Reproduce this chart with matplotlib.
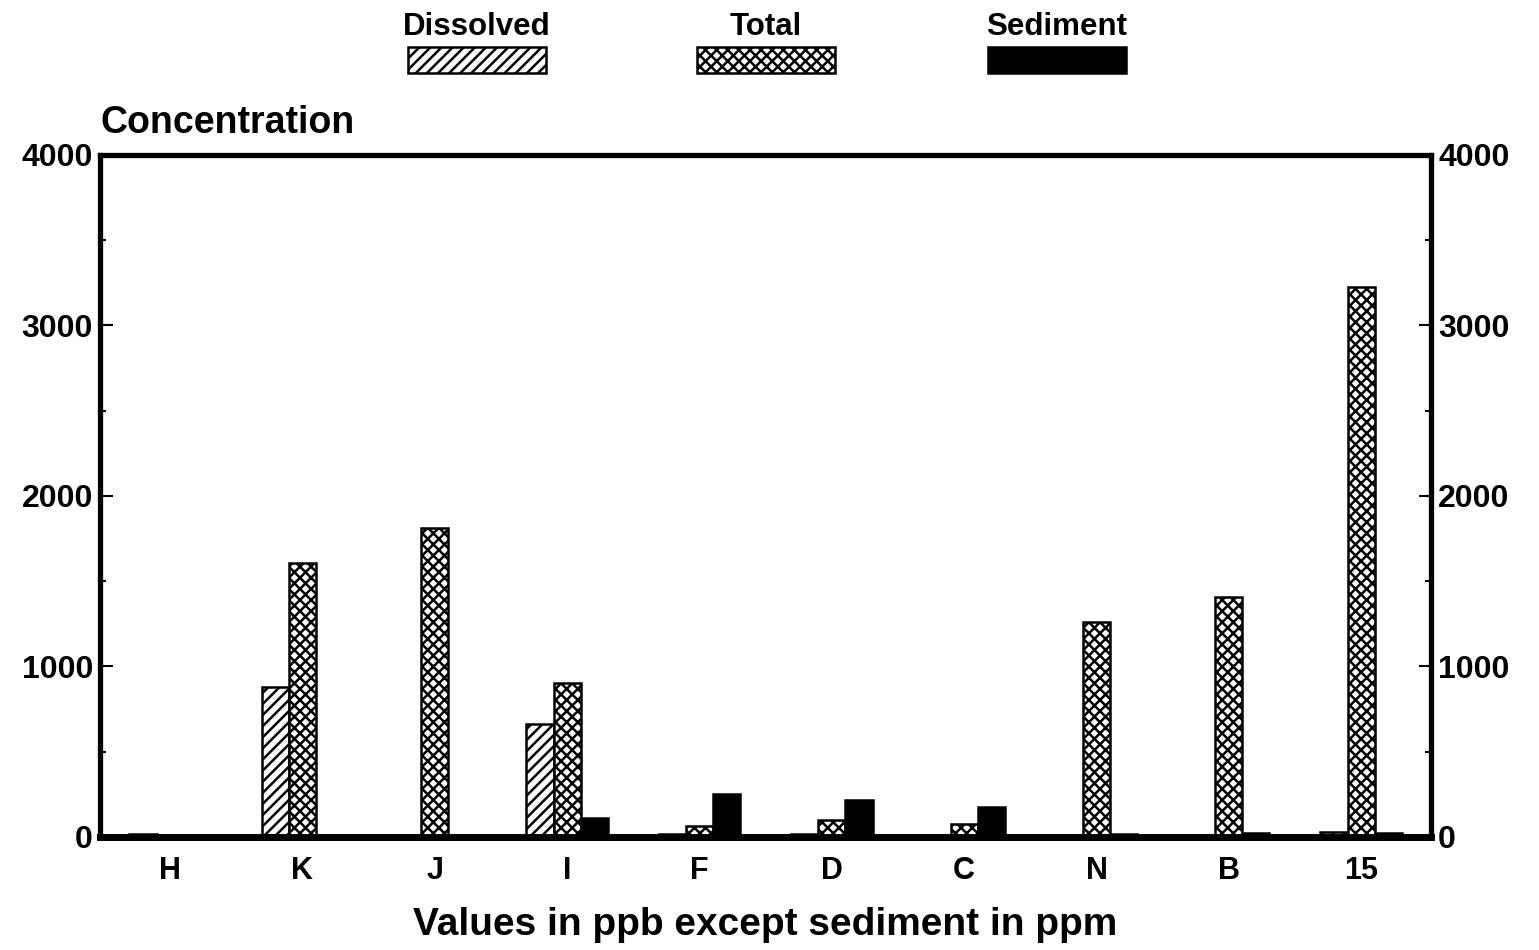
import matplotlib

matplotlib.use("Agg")
import matplotlib.pyplot as plt
import numpy as np
from matplotlib.patches import Rectangle
from matplotlib.ticker import MultipleLocator

plt.rcParams["font.family"] = ["Liberation Sans", "DejaVu Sans"]
plt.rcParams["font.weight"] = "bold"
plt.rcParams["hatch.linewidth"] = 1.8

sites = ["H", "K", "J", "I", "F", "D", "C", "N", "B", "15"]
dissolved = [15, 880, 5, 665, 20, 20, 5, 5, 5, 30]
total = [5, 1606, 1812, 900, 65, 100, 76, 1259, 1406, 3224]
sediment = [5, 5, 5, 112, 253, 218, 176, 20, 25, 25]

fig = plt.figure(figsize=(15.39, 9.5), dpi=100)
ax = fig.add_axes([0.065, 0.119, 0.865, 0.718])

x = np.arange(len(sites))
w = 0.205
ax.bar(x - w, dissolved, w, facecolor="white", edgecolor="black", hatch="///", linewidth=1.8)
ax.bar(x, total, w, facecolor="white", edgecolor="black", hatch="xxx", linewidth=1.8)
ax.bar(x + w, sediment, w, facecolor="black", edgecolor="black", linewidth=1.8)

ax.set_xlim(-0.53, len(sites) - 0.47)
ax.set_ylim(0, 4000)
ax.set_xticks(x)
ax.set_xticklabels(sites, fontsize=22, fontweight="bold")
ax.set_yticks([0, 1000, 2000, 3000, 4000])
ax.yaxis.set_minor_locator(MultipleLocator(500))
ax.tick_params(axis="y", which="both", direction="in", left=True, right=True,
               labelleft=True, labelright=True, labelsize=23, width=1.5)
ax.tick_params(axis="y", which="major", length=9, pad=5)
ax.tick_params(axis="y", which="minor", length=4)
ax.tick_params(axis="x", length=0, pad=14)
for lab in ax.get_yticklabels():
    lab.set_fontweight("bold")
for s in ax.spines.values():
    s.set_linewidth(3.8)
ax.spines["bottom"].set_linewidth(5)

ax.text(0.0, 1.02, "Concentration", transform=ax.transAxes, fontsize=27,
        fontweight="bold", ha="left", va="bottom")
fig.text(0.497, 0.045, "Values in ppb except sediment in ppm", fontsize=28,
         fontweight="bold", ha="center", va="top")

# legend: labels above swatches
legend_items = [("Dissolved", 408, dict(facecolor="white", hatch="///")),
                ("Total", 697, dict(facecolor="white", hatch="xxx")),
                ("Sediment", 988, dict(facecolor="black"))]
W, H = 1539, 950
for label, px, style in legend_items:
    rect = Rectangle((px / W, (H - 73) / H), 138 / W, 26 / H, transform=fig.transFigure,
                     edgecolor="black", linewidth=1.8, **style)
    fig.add_artist(rect)
    fig.text((px + 69) / W, (H - 27) / H, label, fontsize=22.5, fontweight="bold",
             ha="center", va="center")

fig.savefig("out.png", dpi=100)
